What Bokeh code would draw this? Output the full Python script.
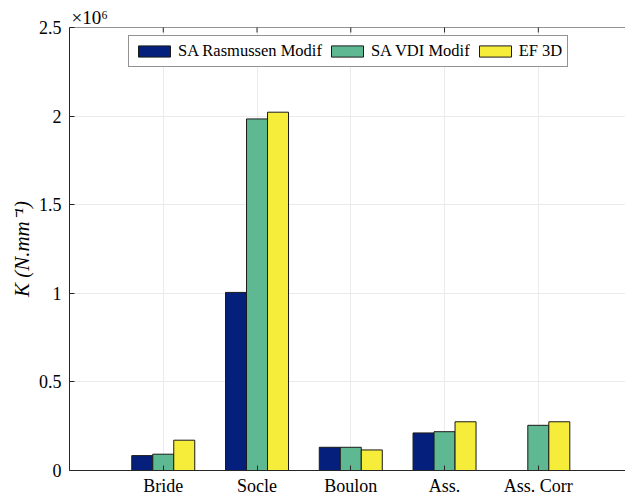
import math
from bokeh.plotting import figure
from bokeh.models import ColumnDataSource, FixedTicker, Legend, LegendItem, Span
from bokeh.embed import file_html
from bokeh.resources import INLINE

categories = ["Bride", "Socle", "Boulon", "Ass.", "Ass. Corr"]
series_names = ["SA Rasmussen Modif", "SA VDI Modif", "EF 3D"]
rasmussen = [0.084e6, 1.005e6, 0.131e6, 0.212e6, 0.0]
vdi = [0.092e6, 1.984e6, 0.131e6, 0.219e6, 0.255e6]
ef3d = [0.171e6, 2.022e6, 0.116e6, 0.275e6, 0.275e6]
y_ticks = [0, 0.5e6, 1.0e6, 1.5e6, 2.0e6, 2.5e6]
y_tick_labels = ["0", "0.5", "1", "1.5", "2", "2.5"]
y_max = 2.5e6

colors = ["#04207c", "#5eb891", "#f6ec3a"]
FONT = "Liberation Serif"
TXT = "#262626"

p = figure(width=625, height=498, output_backend="svg", toolbar_location=None,
           x_range=(0, 5.93), y_range=(0, y_max),
           min_border_left=69, min_border_top=27, min_border_right=0, min_border_bottom=26)
p.outline_line_color = None
p.background_fill_color = "white"
p.border_fill_color = "white"

# exponent as title
p.title.text = "×10⁶"
p.title.align = "left"
p.title.text_font = FONT
p.title.text_font_size = "19px"
p.title.text_font_style = "normal"
p.title.text_color = "black"
p.title.standoff = 0
p.title.offset = 2

pos = list(range(1, len(categories) + 1))
bw = 0.224
offsets = [-bw, 0.0, bw]
renderers = []
for vals, off, c in zip([rasmussen, vdi, ef3d], offsets, colors):
    src = ColumnDataSource(dict(x=[q + off for q in pos], top=vals))
    r = p.vbar(x="x", top="top", width=bw, bottom=0, source=src,
               fill_color=c, line_color="#1a1a1a", line_width=1)
    renderers.append(r)

# top box line with inward ticks
p.add_layout(Span(location=y_max, dimension="width", line_color=TXT, line_width=1))
p.scatter(x=pos, y=[y_max] * len(pos), marker="dash", angle=math.pi / 2, size=10,
          line_color=TXT, line_width=1)

# axes
xt = FixedTicker(ticks=pos)
p.xaxis.ticker = xt
p.xaxis.major_label_overrides = {q: c for q, c in zip(pos, categories)}
p.yaxis.ticker = FixedTicker(ticks=y_ticks)
p.yaxis.major_label_overrides = {t: l for t, l in zip(y_ticks, y_tick_labels)}
for ax in [p.xaxis[0], p.yaxis[0]]:
    ax.major_tick_in = 5
    ax.major_tick_out = 0
    ax.minor_tick_line_color = None
    ax.axis_line_color = TXT
    ax.major_tick_line_color = TXT
    ax.major_label_text_font = FONT
    ax.major_label_text_font_size = "18px"
    ax.major_label_text_color = "black"
p.xaxis.major_label_standoff = 5
p.yaxis.major_label_standoff = 8
p.yaxis.axis_label = "K (N.mm⁻¹)"
p.yaxis.axis_label_text_font = FONT
p.yaxis.axis_label_text_font_style = "italic"
p.yaxis.axis_label_text_font_size = "21px"
p.yaxis.axis_label_text_color = "black"
p.yaxis.axis_label_standoff = 2

p.xgrid.ticker = xt
p.grid.grid_line_color = "#ebebeb"
p.grid.grid_line_width = 1

legend = Legend(items=[LegendItem(label=n, renderers=[r]) for n, r in zip(series_names, renderers)],
                orientation="horizontal", location=(59, 403),
                glyph_width=40, glyph_height=14, label_standoff=4, spacing=5,
                padding=5, margin=0, label_text_font=FONT, label_text_font_size="16.5px",
                label_text_color="black", border_line_color=TXT, border_line_width=1,
                background_fill_color="white", background_fill_alpha=1.0, label_height=14)
p.add_layout(legend, "center")

open("out.html", "w").write(file_html(p, INLINE))
